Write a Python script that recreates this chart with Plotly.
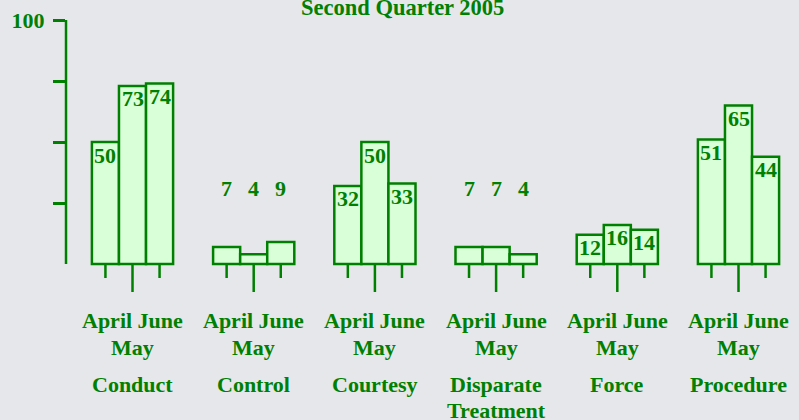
import plotly.graph_objects as go

categories = ["Conduct", "Control", "Courtesy", "Disparate<br>Treatment", "Force", "Procedure"]
months = ["April", "May", "June"]
april = [50, 7, 32, 7, 12, 51]
may = [73, 4, 50, 7, 16, 65]
june = [74, 9, 33, 4, 14, 44]
title_text = "Second Quarter 2005"
ytick_vals = [25, 50, 75, 100]
ytick_text = ["", "", "", "100"]

GREEN = "#008000"
FILL = "#d9ffd9"
BG = "#e6e7ea"
FONT = "Liberation Serif"
FS = 22

series = [april, may, june]
n = len(categories)
bargap = 0.33
w = (1 - bargap) / 3

# pixel -> data helpers (plot area: top=20 -> 100, baseline 264 -> 0)
PX_PER_UNIT = 2.44
def py(p):
    return (264 - p) / PX_PER_UNIT

def tfont(size=FS):
    return dict(family=FONT, size=size, color=GREEN, weight="bold")

fig = go.Figure()
for k, (m, vals) in enumerate(zip(months, series)):
    fig.add_trace(go.Bar(
        x=list(range(n)), y=vals, name=m,
        marker=dict(color=FILL, line=dict(color=GREEN, width=2.5)),
        showlegend=False, hoverinfo="skip",
    ))

annotations = []
shapes = []
for i in range(n):
    for k, vals in enumerate(series):
        xc = i + (k - 1) * w
        v = vals[i]
        if v >= 10:
            annotations.append(dict(x=xc, y=v, yanchor="middle", yshift=-13, text=str(v),
                                    showarrow=False, font=tfont()))
        else:
            annotations.append(dict(x=xc, y=py(188), yanchor="middle", text=str(v),
                                    showarrow=False, font=tfont()))
        tick_end = py(292) if k == 1 else py(278)
        shapes.append(dict(type="line", xref="x", yref="y", x0=xc, x1=xc, y0=0, y1=tick_end,
                           line=dict(color=GREEN, width=2.5)))
    annotations.append(dict(x=i, y=py(320), yanchor="middle", text="April June", showarrow=False,
                            font=tfont()))
    annotations.append(dict(x=i, y=py(347), yanchor="middle", text="May", showarrow=False,
                            font=tfont()))
    for j, line in enumerate(categories[i].split("<br>")):
        annotations.append(dict(x=i, y=py(384 + 26 * j), yanchor="middle", text=line, showarrow=False,
                                font=tfont()))

# y axis line
shapes.append(dict(type="line", xref="paper", yref="y", x0=0, x1=0, y0=0, y1=100,
                   line=dict(color=GREEN, width=2.5)))

annotations.append(dict(xref="paper", yref="paper", x=(402 - 66) / 733, y=1, yanchor="middle",
                        yshift=13, text=title_text, showarrow=False, font=tfont(22.5)))

left = (66 - 132.5) / 121.2
right = (799 - 132.5) / 121.2

fig.update_layout(
    width=799, height=420,
    margin=dict(l=66, r=0, t=20, b=0),
    paper_bgcolor=BG, plot_bgcolor=BG,
    barmode="group", bargap=bargap, bargroupgap=0,
    xaxis=dict(range=[left, right], showgrid=False, zeroline=False, showticklabels=False, showline=False),
    yaxis=dict(range=[py(420), 100], showgrid=False, zeroline=False, showline=False,
               tickmode="array", tickvals=ytick_vals, ticktext=ytick_text,
               ticks="outside", ticklen=12, tickwidth=2.5, tickcolor=GREEN,
               ticklabelstandoff=4, tickfont=tfont()),
    annotations=annotations, shapes=shapes,
)

fig.write_html("out.html", config={"displayModeBar": False},
               post_script="document.body.style.margin='0';document.body.style.padding='0';")
